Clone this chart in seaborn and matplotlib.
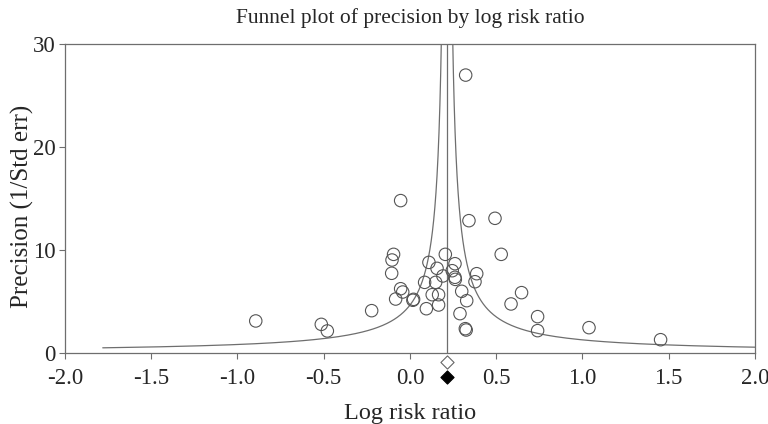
import numpy as np
import pandas as pd
import matplotlib
matplotlib.use("Agg")
import matplotlib.pyplot as plt
import seaborn as sns

# study estimates: log risk ratio and precision (1/SE)
log_rr = [0.323, -0.054, 0.342, 0.493, -0.095, -0.104, -0.106, 0.205, 0.529, 0.110,
          0.157, 0.261, 0.245, 0.191, 0.261, 0.263, 0.387, 0.377, 0.085, 0.149,
          -0.054, -0.042, -0.083, 0.021, 0.017, 0.129, 0.166, 0.300, 0.329, 0.095,
          0.166, 0.290, 0.321, 0.326, 0.647, 0.586, 0.740, 0.740, -0.222, -0.894,
          -0.514, -0.479, 1.038, 1.453]
precision = [26.99, 14.8, 12.85, 13.08, 9.58, 9.03, 7.74, 9.58, 9.58, 8.8,
             8.22, 8.67, 7.99, 7.48, 7.35, 7.15, 7.70, 6.92, 6.86, 6.86,
             6.24, 5.92, 5.24, 5.21, 5.12, 5.66, 5.66, 5.99, 5.08, 4.30,
             4.66, 3.82, 2.36, 2.23, 5.86, 4.76, 3.53, 2.17, 4.11, 3.11,
             2.78, 2.14, 2.46, 1.29]

pooled = 0.215          # combined log risk ratio
funnel_z = 1.0          # funnel half-width in SE units
xticks = [-2.0, -1.5, -1.0, -0.5, 0.0, 0.5, 1.0, 1.5, 2.0]
yticks = [0, 10, 20, 30]

df = pd.DataFrame({"log_rr": log_rr, "precision": precision})

sns.set_style("white")
plt.rcParams["font.family"] = ["Liberation Serif", "DejaVu Serif"]

fig, ax = plt.subplots(figsize=(7.68, 4.24), dpi=100)
fig.subplots_adjust(left=0.0846, right=0.983, bottom=0.1675, top=0.896)

# funnel lines
prec_grid = np.linspace(0.501, 40, 800)
funnel = pd.DataFrame({
    "left": pooled - funnel_z / prec_grid,
    "right": pooled + funnel_z / prec_grid,
    "prec": prec_grid,
})
ax.plot(funnel["left"], funnel["prec"], color="#6e6e6e", lw=0.9)
ax.plot(funnel["right"], funnel["prec"], color="#6e6e6e", lw=0.9)
ax.plot([pooled, pooled], [0, 30], color="#6e6e6e", lw=0.9)

sns.scatterplot(data=df, x="log_rr", y="precision", ax=ax, s=80,
                facecolor="none", edgecolor="#555555", linewidth=0.8,
                marker="o", zorder=3)

# summary diamonds below the axis
ax.scatter([pooled], [-0.87], marker="D", s=45, facecolor="white",
           edgecolor="#666666", linewidth=0.8, clip_on=False, zorder=4)
ax.scatter([pooled], [-2.33], marker="D", s=45, facecolor="black",
           edgecolor="black", linewidth=0.8, clip_on=False, zorder=4)

ax.set_xlim(-2.0, 2.0)
ax.set_ylim(0, 30)
ax.set_xticks(xticks)
ax.set_xticklabels([f"{t:.1f}" for t in xticks])
ax.set_yticks(yticks)
ax.tick_params(axis="both", direction="out", length=4, width=0.8,
               color="#6e6e6e", labelsize=16.5, bottom=True, left=True)
ax.tick_params(axis="x", pad=7)
ax.tick_params(axis="y", pad=3)
for sp in ax.spines.values():
    sp.set_color("#6e6e6e")
    sp.set_linewidth(0.9)

ax.set_title("Funnel plot of precision by log risk ratio", fontsize=15.5, pad=15)
ax.set_xlabel("Log risk ratio", fontsize=17.5, labelpad=10)
ax.set_ylabel("Precision (1/Std err)", fontsize=18)
ax.yaxis.set_label_coords(-0.045, 0.474)

fig.savefig("out.png", dpi=100)
plt.close(fig)
